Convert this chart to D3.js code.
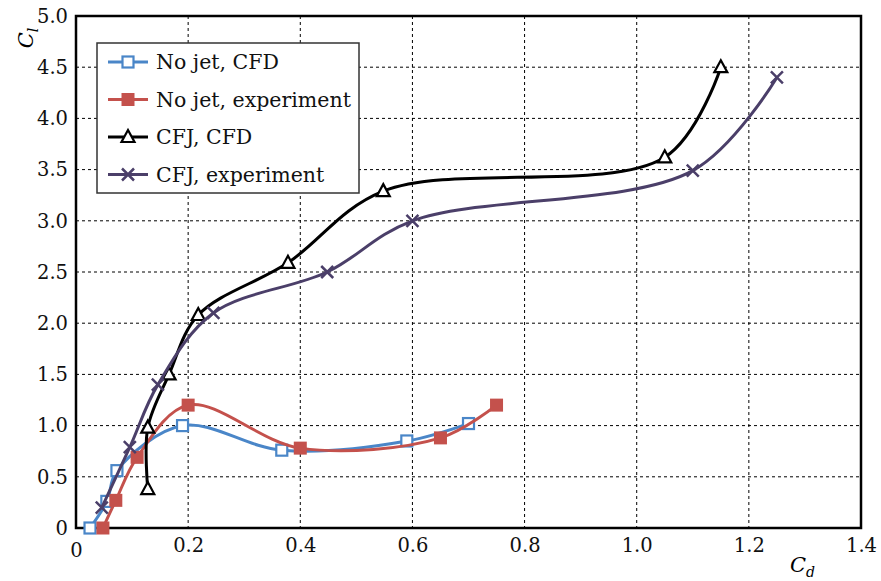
<!DOCTYPE html>
<html>
<head>
<meta charset="utf-8">
<script src="https://cdn.jsdelivr.net/npm/d3@7"></script>
<style>
  body { margin: 0; background: #fff; }
  text { font-family: "DejaVu Serif", "Liberation Serif", serif; }
</style>
</head>
<body>
<div id="chart"></div>
<script>
// data
var noJetCfdX = [0.025, 0.055, 0.073, 0.19, 0.367, 0.59, 0.70];
var noJetCfdY = [0.0, 0.26, 0.56, 1.0, 0.76, 0.85, 1.02];

var noJetExpX = [0.048, 0.071, 0.109, 0.20, 0.40, 0.65, 0.75];
var noJetExpY = [0.0, 0.27, 0.69, 1.2, 0.78, 0.88, 1.2];

var cfjCfdX = [0.128, 0.128, 0.166, 0.218, 0.378, 0.548, 1.05, 1.15];
var cfjCfdY = [0.38, 0.98, 1.5, 2.08, 2.59, 3.29, 3.62, 4.5];

var cfjExpX = [0.046, 0.096, 0.146, 0.245, 0.448, 0.60, 1.10, 1.25];
var cfjExpY = [0.2, 0.79, 1.4, 2.1, 2.5, 3.0, 3.49, 4.4];

var xTicks = [0, 0.2, 0.4, 0.6, 0.8, 1.0, 1.2, 1.4];
var yTicks = [0, 0.5, 1.0, 1.5, 2.0, 2.5, 3.0, 3.5, 4.0, 4.5, 5.0];

var seriesNames = ["No jet, CFD", "No jet, experiment", "CFJ, CFD", "CFJ, experiment"];
var seriesColors = ["#4a86c8", "#c4514c", "#000000", "#4b3f69"];
var seriesMarkers = ["square", "filled", "triangle", "cross"];

var svgWidth = 881;
var svgHeight = 581;

var margin = {
    top: 16,
    right: 20,
    bottom: 53,
    left: 76
};

var width = svgWidth - margin.left - margin.right;
var height = svgHeight - margin.top - margin.bottom;

var svg = d3.select("#chart")
            .append("svg")
            .attr("width", svgWidth)
            .attr("height", svgHeight);

var chartGroup = svg.append("g")
                    .attr("transform", `translate(${margin.left}, ${margin.top})`);

var xScale = d3.scaleLinear().domain([0, 1.4]).range([0, width]);
var yScale = d3.scaleLinear().domain([0, 5]).range([height, 0]);

// grid
chartGroup.append("g")
          .selectAll("line")
          .data(xTicks.slice(1, -1))
          .enter()
          .append("line")
          .attr("x1", d => xScale(d))
          .attr("x2", d => xScale(d))
          .attr("y1", 0)
          .attr("y2", height)
          .attr("stroke", "#000")
          .attr("stroke-width", 1)
          .attr("stroke-dasharray", "3,3");

chartGroup.append("g")
          .selectAll("line")
          .data(yTicks.slice(1, -1))
          .enter()
          .append("line")
          .attr("x1", 0)
          .attr("x2", width)
          .attr("y1", d => yScale(d))
          .attr("y2", d => yScale(d))
          .attr("stroke", "#000")
          .attr("stroke-width", 1)
          .attr("stroke-dasharray", "3,3");

// axes (labels only, frame drawn below)
var bottomAxis = d3.axisBottom(xScale)
                   .tickValues(xTicks)
                   .tickSize(0)
                   .tickPadding(10)
                   .tickFormat(d => d === 0 ? "0" : d3.format(".1f")(d));
var leftAxis = d3.axisLeft(yScale)
                 .tickValues(yTicks)
                 .tickSize(0)
                 .tickPadding(8)
                 .tickFormat(d => d === 0 ? "0" : d3.format(".1f")(d));

var xAxisG = chartGroup.append("g")
                       .attr("transform", `translate(0, ${height})`)
                       .call(bottomAxis);
var yAxisG = chartGroup.append("g")
                       .call(leftAxis);

[xAxisG, yAxisG].forEach(function(g) {
    g.attr("font-family", null);
    g.select(".domain").remove();
    g.selectAll("text")
     .attr("font-size", 19.5)
     .attr("fill", "#111");
});
xAxisG.selectAll("text").filter(d => d === 0).attr("dy", "0.95em");

// frame
chartGroup.append("rect")
          .attr("x", 0)
          .attr("y", 0)
          .attr("width", width)
          .attr("height", height)
          .attr("fill", "none")
          .attr("stroke", "#000")
          .attr("stroke-width", 2.5);

// series
var allSeries = [
    { x: noJetCfdX, y: noJetCfdY },
    { x: noJetExpX, y: noJetExpY },
    { x: cfjCfdX, y: cfjCfdY },
    { x: cfjExpX, y: cfjExpY }
].map(function(s, i) {
    return {
        name: seriesNames[i],
        color: seriesColors[i],
        marker: seriesMarkers[i],
        points: s.x.map((v, j) => ({ x: v, y: s.y[j] }))
    };
});

var line = d3.line()
             .x(d => xScale(d.x))
             .y(d => yScale(d.y))
             .curve(d3.curveCatmullRom.alpha(0.5));

function drawMarker(g, type, color, cx, cy) {
    if (type === "square") {
        g.append("rect")
         .attr("x", cx - 5.5).attr("y", cy - 5.5)
         .attr("width", 11).attr("height", 11)
         .attr("fill", "#fff")
         .attr("stroke", color)
         .attr("stroke-width", 2.2);
    } else if (type === "filled") {
        g.append("rect")
         .attr("x", cx - 6.5).attr("y", cy - 6.5)
         .attr("width", 13).attr("height", 13)
         .attr("fill", color);
    } else if (type === "triangle") {
        g.append("path")
         .attr("d", `M${cx},${cy - 7}L${cx + 6.5},${cy + 5}L${cx - 6.5},${cy + 5}Z`)
         .attr("fill", "#fff")
         .attr("stroke", color)
         .attr("stroke-width", 2.2);
    } else {
        g.append("path")
         .attr("d", `M${cx - 6},${cy - 6}L${cx + 6},${cy + 6}M${cx - 6},${cy + 6}L${cx + 6},${cy - 6}`)
         .attr("stroke", color)
         .attr("stroke-width", 2.5);
    }
}

allSeries.forEach(function(s) {
    chartGroup.append("path")
              .datum(s.points)
              .attr("d", line)
              .attr("fill", "none")
              .attr("stroke", s.color)
              .attr("stroke-width", 3);
    var mg = chartGroup.append("g");
    s.points.forEach(function(p) {
        drawMarker(mg, s.marker, s.color, xScale(p.x), yScale(p.y));
    });
});

// legend
var legend = svg.append("g").attr("transform", "translate(97, 43)");
legend.append("rect")
      .attr("width", 262)
      .attr("height", 150)
      .attr("fill", "#fff")
      .attr("stroke", "#333")
      .attr("stroke-width", 1.5);

allSeries.forEach(function(s, i) {
    var ly = 19 + i * 37.5;
    legend.append("line")
          .attr("x1", 11).attr("x2", 51)
          .attr("y1", ly).attr("y2", ly)
          .attr("stroke", s.color)
          .attr("stroke-width", 3);
    drawMarker(legend, s.marker, s.color, 31, ly);
    legend.append("text")
          .attr("x", 59)
          .attr("y", ly + 7)
          .attr("font-size", 20.5)
          .attr("fill", "#111")
          .text(s.name);
});

// axis titles
svg.append("text")
   .attr("transform", "translate(33, 38) rotate(-90)")
   .attr("text-anchor", "middle")
   .attr("font-size", 21)
   .attr("font-style", "italic")
   .html("C<tspan font-size='14' dy='5'>l</tspan>");

svg.append("text")
   .attr("x", 790)
   .attr("y", 572)
   .attr("font-size", 21)
   .attr("font-style", "italic")
   .html("C<tspan font-size='14' dy='5'>d</tspan>");
</script>
</body>
</html>
